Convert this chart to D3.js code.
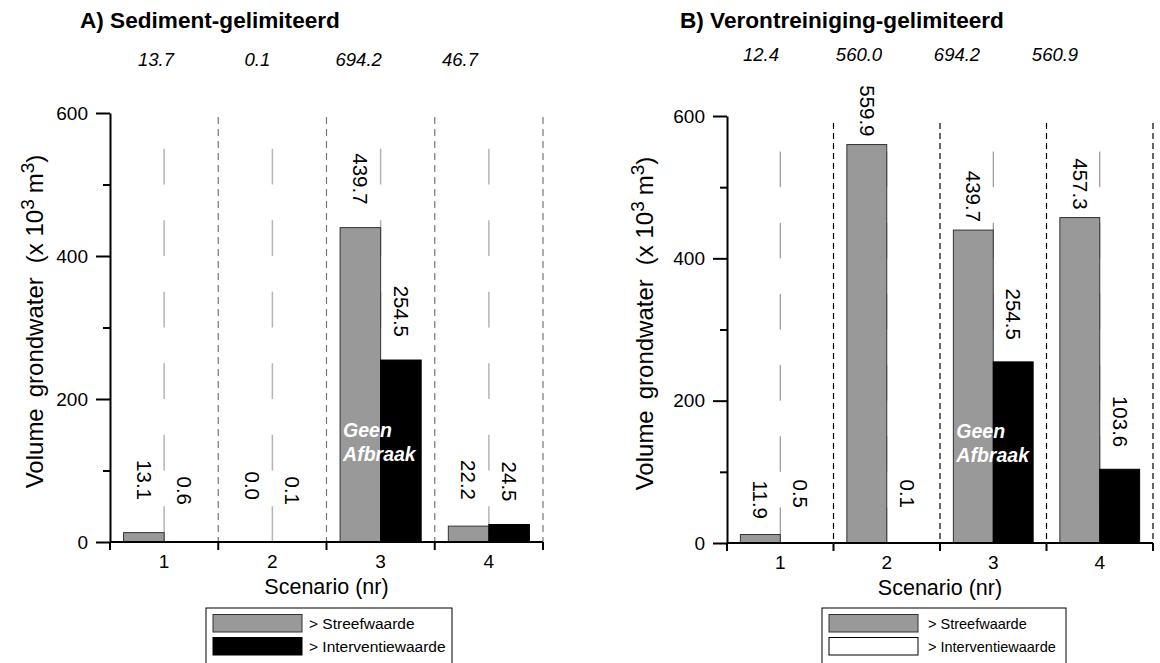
<!DOCTYPE html>
<html>
<head>
<meta charset="utf-8">
<script src="https://cdn.jsdelivr.net/npm/d3@7"></script>
<style>
body{margin:0;background:#fff}
svg{font-family:"Liberation Sans",Arial,sans-serif}
</style>
</head>
<body>
<svg id="chart" width="1160" height="663"></svg>
<script>
// values (x 10^3 m3)
const scenarios = [1, 2, 3, 4]
const seriesNames = ['> Streefwaarde', '> Interventiewaarde']

const sedStreef = [13.1, 0.0, 439.7, 22.2]
const sedInterv = [0.6, 0.1, 254.5, 24.5]
const sedTotals = [13.7, 0.1, 694.2, 46.7]

const verStreef = [11.9, 559.9, 439.7, 457.3]
const verInterv = [0.5, 0.1, 254.5, 103.6]
const verTotals = [12.4, 560.0, 694.2, 560.9]

const yMajor = [0, 200, 400, 600]
const yMinor = [100, 300, 500]
const noteLines = ['Geen', 'Afbraak']
const noteScenario = 3
const noteValue = 147

const svg = d3.select('#chart')
svg.append('rect').attr('width', 1160).attr('height', 663).attr('fill', '#fff')

// layout per panel
const panels = [
  {title: 'A) Sediment-gelimiteerd', streef: sedStreef, interv: sedInterv, totals: sedTotals,
   left: 110, right: 543, top: 113, bottom: 542, titleX: 80, totalsY: 66, totInset: [46, 83],
   yLabelX: 43, sepColor: '#777', sepDash: '7,5', sepTop: 117, midColor: '#b4b4b4', midWidth: 1.5,
   gap: [23, 23], minGap: [42, 37], legendX: 206, legendW: 246, legendFill: '#000', legendTx: 96, legendFs: 15.5},
  {title: 'B) Verontreiniging-gelimiteerd', streef: verStreef, interv: verInterv, totals: verTotals,
   left: 727, right: 1153, top: 116, bottom: 543, titleX: 680, totalsY: 61, totInset: [34, 98],
   yLabelX: 653, sepColor: '#000', sepDash: '6,4', sepTop: 123, midColor: '#808080', midWidth: 1,
   gap: [8, 22], minGap: [24, 35], legendX: 822, legendW: 244, legendFill: '#fff', legendTx: 99, legendFs: 14.5}
]

panels.forEach(drawPanel)

function drawPanel(p) {
  const g = svg.append('g')

  const x = d3.scaleBand().domain(scenarios).range([p.left, p.right]).padding(0)
  const x1 = d3.scaleBand().domain(seriesNames).range([0, x.bandwidth()]).paddingInner(0).paddingOuter(0.335)
  const y = d3.scaleLinear().domain([0, 600]).range([p.bottom, p.top])
  const xTot = d3.scalePoint().domain(scenarios).range([p.left + p.totInset[0], p.right - p.totInset[1]])

  const rows = scenarios.map((s, i) => ({s, vals: [p.streef[i], p.interv[i]]}))
  const fills = ['#999999', '#000']

  // title and totals
  g.append('text').attr('x', p.titleX).attr('y', 28)
    .attr('font-size', 22.6).attr('font-weight', 'bold').text(p.title)

  g.selectAll('.tot').data(scenarios).join('text')
    .attr('x', d => xTot(d)).attr('y', p.totalsY)
    .attr('text-anchor', 'middle').attr('font-size', 18.5).attr('font-style', 'italic')
    .text((d, i) => d3.format('.1f')(p.totals[i]))

  // dashed centre lines (one per scenario)
  const dashLen = y(0) - y(50)
  g.selectAll('.mid').data(scenarios).join('line')
    .attr('x1', d => x(d) + x.bandwidth() / 2).attr('x2', d => x(d) + x.bandwidth() / 2)
    .attr('y1', y(550)).attr('y2', y(0))
    .attr('stroke', p.midColor).attr('stroke-width', p.midWidth)
    .attr('stroke-dasharray', `${dashLen} ${dashLen}`)

  // scenario separators
  g.selectAll('.sep').data(scenarios).join('line')
    .attr('x1', d => x(d) + x.bandwidth()).attr('x2', d => x(d) + x.bandwidth())
    .attr('y1', p.sepTop).attr('y2', y(0))
    .attr('stroke', p.sepColor).attr('stroke-width', 1.2)
    .attr('stroke-dasharray', p.sepDash)

  // bars
  const grp = g.selectAll('.grp').data(rows).join('g')
    .attr('transform', d => `translate(${x(d.s)},0)`)

  grp.selectAll('rect').data(d => d.vals).join('rect')
    .attr('x', (d, i) => x1(seriesNames[i]))
    .attr('y', d => y(d))
    .attr('width', x1.bandwidth())
    .attr('height', d => y(0) - y(d))
    .attr('fill', (d, i) => fills[i])
    .attr('stroke', (d, i) => i == 0 ? '#333' : '#000')
    .attr('stroke-width', 1)

  // value labels, rotated
  grp.selectAll('text').data(d => d.vals).join('text')
    .attr('transform', (d, i) => {
      const cx = x1(seriesNames[i]) + x1.bandwidth() / 2
      const ey = Math.min(y(d) - p.gap[i], y(0) - p.minGap[i])
      return `translate(${cx},${ey}) rotate(90)`
    })
    .attr('text-anchor', 'end').attr('dy', '0.35em').attr('font-size', 20.5)
    .text(d => d3.format('.1f')(d))

  // "Geen Afbraak" note
  const nt = g.append('text')
    .attr('x', x(noteScenario) + x1(seriesNames[0]) + 3)
    .attr('y', y(noteValue))
    .attr('fill', '#fff').attr('font-size', 19.5).attr('font-weight', 'bold').attr('font-style', 'italic')
  noteLines.forEach((t, i) => nt.append('tspan')
    .attr('x', x(noteScenario) + x1(seriesNames[0]) + 3)
    .attr('dy', i == 0 ? 0 : 24).text(t))

  // y axis
  const yAx = g.append('g').attr('transform', `translate(${p.left},0)`)
    .call(d3.axisLeft(y).tickValues(yMajor).tickSize(14).tickSizeOuter(0).tickPadding(8))
  yAx.selectAll('text').attr('font-size', 19).attr('fill', '#000')
  yAx.selectAll('line, path').attr('stroke', '#000').attr('stroke-width', 2)
  yAx.attr('font-family', null)

  const yMin = g.append('g').attr('transform', `translate(${p.left},0)`)
    .call(d3.axisLeft(y).tickValues(yMinor).tickSize(7).tickFormat(''))
  yMin.select('.domain').remove()
  yMin.selectAll('line').attr('stroke', '#000').attr('stroke-width', 2)

  // x axis
  g.append('line').attr('x1', p.left).attr('x2', p.right).attr('y1', y(0)).attr('y2', y(0))
    .attr('stroke', '#000').attr('stroke-width', 2)
  g.selectAll('.xt').data([scenarios[0]].concat(scenarios)).join('line')
    .attr('x1', (d, i) => i == 0 ? p.left : x(d) + x.bandwidth())
    .attr('x2', (d, i) => i == 0 ? p.left : x(d) + x.bandwidth())
    .attr('y1', y(0)).attr('y2', y(0) + 8)
    .attr('stroke', '#000').attr('stroke-width', 2)

  const xAx = g.append('g').attr('transform', `translate(0,${y(0)})`)
    .call(d3.axisBottom(x).tickSize(0).tickPadding(13))
  xAx.select('.domain').remove()
  xAx.selectAll('text').attr('font-size', 19).attr('fill', '#000')
  xAx.attr('font-family', null)

  g.append('text').attr('x', (p.left + p.right) / 2).attr('y', y(0) + 52)
    .attr('text-anchor', 'middle').attr('font-size', 21.5).text('Scenario (nr)')

  // y label
  const yl = g.append('text')
    .attr('transform', `translate(${p.yLabelX},${(p.top + p.bottom) / 2 - 6}) rotate(-90)`)
    .attr('text-anchor', 'middle').attr('font-size', 24)
  yl.append('tspan').text('Volume')
  yl.append('tspan').attr('dx', 11).text('grondwater')
  yl.append('tspan').attr('dx', 14).text('(x 10')
  yl.append('tspan').attr('font-size', 19).attr('dy', -9).text('3')
  yl.append('tspan').attr('dx', 6).attr('dy', 9).text('m')
  yl.append('tspan').attr('font-size', 19).attr('dy', -9).text('3')
  yl.append('tspan').attr('dy', 9).text(')')

  // legend
  const lg = g.append('g').attr('transform', `translate(${p.legendX},608)`)
  lg.append('rect').attr('width', p.legendW).attr('height', 70)
    .attr('fill', '#fff').attr('stroke', '#000').attr('stroke-width', 1)
  const items = lg.selectAll('.it').data(seriesNames).join('g')
    .attr('transform', (d, i) => `translate(7,${6.5 + i * 23})`)
  items.append('rect').attr('width', 89).attr('height', 17.5)
    .attr('fill', (d, i) => i == 0 ? fills[0] : p.legendFill)
    .attr('stroke', (d, i) => i == 0 ? '#333' : '#000')
  items.append('text').attr('x', p.legendTx).attr('y', 14).attr('font-size', p.legendFs).text(d => d)
}
</script>
</body>
</html>
